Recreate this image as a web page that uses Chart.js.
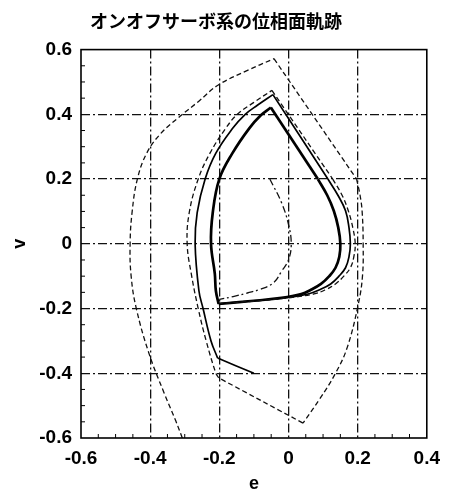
<!DOCTYPE html>
<html>
<head>
<meta charset="utf-8">
<script src="https://cdn.jsdelivr.net/npm/chart.js@4.4.1/dist/chart.umd.min.js"></script>
<style>
    html, body { margin: 0; padding: 0; background: #fff; }
</style>
</head>
<body>
<canvas id="grafico" width="449" height="493"></canvas>
<script>
// eixos
const ticks_e = [-0.6, -0.4, -0.2, 0, 0.2, 0.4];
const ticks_v = [-0.6, -0.4, -0.2, 0, 0.2, 0.4, 0.6];
const rotulos_e = ['-0.6', '-0.4', '-0.2', '0', '0.2', '0.4'];
const rotulos_v = ['-0.6', '-0.4', '-0.2', '0', '0.2', '0.4', '0.6'];

// trajetoria tracejada (parte de fora e vai espiralando pra dentro)
const tracejada_e = [-0.307, -0.326, -0.36, -0.403, -0.44, -0.455, -0.458, -0.452, -0.437, -0.41, -0.37, -0.318, -0.26, -0.204, -0.12, -0.042,
    0.197, 0.207, 0.213, 0.216, 0.214, 0.202, 0.17, 0.136, 0.09, 0.042,
    -0.202, -0.21, -0.238, -0.261, -0.281, -0.293, -0.287, -0.261, -0.227, -0.182, -0.148, -0.1, -0.048,
    0.128, 0.155, 0.173, 0.186, 0.193, 0.189, 0.179, 0.16, 0.136, 0.107, 0.074, 0.0, -0.1, -0.2];
const tracejada_v = [-0.6, -0.547, -0.46, -0.34, -0.2, -0.1, 0, 0.1, 0.2, 0.28, 0.34, 0.39, 0.44, 0.49, 0.535, 0.572,
    0.2, 0.15, 0.1, 0, -0.1, -0.186, -0.32, -0.4, -0.48, -0.554,
    -0.414, -0.4, -0.3, -0.2, -0.093, 0, 0.096, 0.2, 0.28, 0.356, 0.4, 0.437, 0.474,
    0.2, 0.15, 0.102, 0.05, 0, -0.04, -0.074, -0.1, -0.124, -0.142, -0.155, -0.167, -0.177, -0.185];
const cantos_tracejada = [15, 16, 25, 26, 38, 39];

// trajetoria continua fina
const fina_e = [-0.1, -0.205, -0.224, -0.247, -0.259, -0.27, -0.264, -0.241, -0.21, -0.162, -0.125, -0.09, -0.045,
    0.114, 0.143, 0.165, 0.175, 0.179, 0.175, 0.165, 0.146, 0.122, 0.09, 0.057, 0.0, -0.1, -0.2];
const fina_v = [-0.4, -0.353, -0.3, -0.2, -0.145, 0, 0.096, 0.2, 0.28, 0.356, 0.4, 0.428, 0.461,
    0.2, 0.15, 0.102, 0.05, 0, -0.04, -0.074, -0.1, -0.124, -0.142, -0.155, -0.166, -0.176, -0.185];
const cantos_fina = [1, 12, 13];

// ciclo limite (linha grossa)
const ciclo_e = [-0.202, -0.21, -0.213, -0.224, -0.219, -0.2, -0.162, -0.114, -0.08, -0.051,
    0.085, 0.112, 0.131, 0.144, 0.15, 0.147, 0.136, 0.118, 0.094, 0.065, 0.037, -0.02, -0.1, -0.202];
const ciclo_v = [-0.186, -0.145, -0.093, 0, 0.096, 0.2, 0.28, 0.356, 0.397, 0.421,
    0.2, 0.15, 0.102, 0.05, 0, -0.04, -0.074, -0.1, -0.124, -0.142, -0.155, -0.167, -0.176, -0.186];
const cantos_ciclo = [9, 10];

// curva traco-ponto
const traco_ponto_e = [-0.054, -0.02, 0.0, 0.008, 0.0, -0.02, -0.043, -0.08, -0.119, -0.16, -0.2];
const traco_ponto_v = [0.2, 0.127, 0.06, 0, -0.05, -0.085, -0.12, -0.14, -0.152, -0.163, -0.172];
const cantos_traco_ponto = [];

// separa a curva nos cantos para a suavizacao nao arredondar as quinas
function quebrar(lista_e, lista_v, cantos) {
    const limites = [0].concat(cantos, [lista_e.length - 1]);
    const pedacos = [];
    for (let k = 0; k < limites.length - 1; k++) {
        const pontos = [];
        for (let i = limites[k]; i <= limites[k + 1]; i++) {
            pontos.push({ x: lista_e[i], y: lista_v[i] });
        }
        pedacos.push(pontos);
    }
    return pedacos;
}

function montarDatasets(lista_e, lista_v, cantos, estilo) {
    return quebrar(lista_e, lista_v, cantos).map(function (pontos) {
        return Object.assign({
            data: pontos,
            showLine: true,
            pointRadius: 0,
            tension: 0.4
        }, estilo);
    });
}

// moldura e tiques menores
const moldura = {
    id: 'moldura',
    afterDraw(chart) {
        const { ctx, chartArea: a } = chart;
        const sx = chart.scales.x;
        const sy = chart.scales.y;
        ctx.save();
        ctx.setLineDash([]);
        ctx.strokeStyle = '#000';
        ctx.lineWidth = 1;
        for (let k = Math.round(sx.min / 0.05); k <= Math.round(sx.max / 0.05); k++) {
            if (k % 4 == 0) continue;
            const px = sx.getPixelForValue(k * 0.05);
            ctx.beginPath();
            ctx.moveTo(px, a.bottom);
            ctx.lineTo(px, a.bottom - 4);
            ctx.stroke();
        }
        for (let k = Math.round(sy.min / 0.05); k <= Math.round(sy.max / 0.05); k++) {
            if (k % 4 == 0) continue;
            const py = sy.getPixelForValue(k * 0.05);
            ctx.beginPath();
            ctx.moveTo(a.left, py);
            ctx.lineTo(a.left + 4, py);
            ctx.stroke();
        }
        ctx.lineWidth = 1.6;
        ctx.strokeRect(a.left, a.top, a.right - a.left, a.bottom - a.top);
        ctx.restore();
    }
};

plotarTrajetorias();

function plotarTrajetorias() {
    const fonte_ticks = { family: 'Liberation Sans', size: 19, weight: 'bold' };

    const datasets = [].concat(
        montarDatasets(tracejada_e, tracejada_v, cantos_tracejada,
            { borderColor: '#111', borderWidth: 1.3, borderDash: [5, 3] }),
        montarDatasets(traco_ponto_e, traco_ponto_v, cantos_traco_ponto,
            { borderColor: '#111', borderWidth: 1.3, borderDash: [7, 3, 2, 3] }),
        montarDatasets(fina_e, fina_v, cantos_fina,
            { borderColor: '#000', borderWidth: 1.7 }),
        montarDatasets(ciclo_e, ciclo_v, cantos_ciclo,
            { borderColor: '#000', borderWidth: 2.7 })
    );

    new Chart(document.getElementById('grafico'), {
        type: 'scatter',
        data: { datasets: datasets },
        options: {
            responsive: false,
            animation: false,
            layout: { padding: { left: 0, right: 17, top: 0, bottom: 0 } },
            plugins: {
                legend: { display: false },
                tooltip: { enabled: false },
                title: {
                    display: true,
                    text: 'オンオフサーボ系の位相面軌跡',
                    color: '#000',
                    font: { family: 'Noto Sans CJK JP', size: 18, weight: 'bold' },
                    padding: { top: 10, bottom: 18 }
                }
            },
            scales: {
                x: {
                    type: 'linear',
                    min: -0.6,
                    max: 0.4,
                    afterFit: function (scale) { scale.height = 55; },
                    afterBuildTicks: function (scale) { scale.ticks = ticks_e.map(v => ({ value: v })); },
                    ticks: {
                        color: '#000',
                        font: fonte_ticks,
                        padding: 9,
                        maxRotation: 0,
                        callback: function (valor, indice) { return rotulos_e[indice]; }
                    },
                    grid: {
                        drawTicks: false,
                        lineWidth: 1.3,
                        color: function (c) {
                            const v = c.tick ? c.tick.value : 0;
                            return (v <= -0.59 || v >= 0.39) ? 'rgba(0,0,0,0)' : '#111';
                        }
                    },
                    border: { display: false, dash: [9, 3, 2, 3] },
                    title: {
                        display: true,
                        text: 'e',
                        color: '#000',
                        font: { family: 'Liberation Sans', size: 18, weight: 'bold', lineHeight: 1 },
                        padding: { top: 0, bottom: 0 }
                    }
                },
                y: {
                    type: 'linear',
                    min: -0.6,
                    max: 0.6,
                    afterFit: function (scale) { scale.width = 81; },
                    afterBuildTicks: function (scale) { scale.ticks = ticks_v.map(v => ({ value: v })); },
                    ticks: {
                        color: '#000',
                        font: fonte_ticks,
                        padding: 9,
                        callback: function (valor, indice) { return rotulos_v[indice]; }
                    },
                    grid: {
                        drawTicks: false,
                        lineWidth: 1.3,
                        color: function (c) {
                            const v = c.tick ? c.tick.value : 0;
                            return (Math.abs(v) >= 0.59) ? 'rgba(0,0,0,0)' : '#111';
                        }
                    },
                    border: { display: false, dash: [9, 3, 2, 3] },
                    title: {
                        display: true,
                        text: 'v',
                        color: '#000',
                        font: { family: 'Liberation Sans', size: 18, weight: 'bold', lineHeight: 1 },
                        padding: { top: 11, bottom: 0 }
                    }
                }
            }
        },
        plugins: [moldura]
    });
}
</script>
</body>
</html>
